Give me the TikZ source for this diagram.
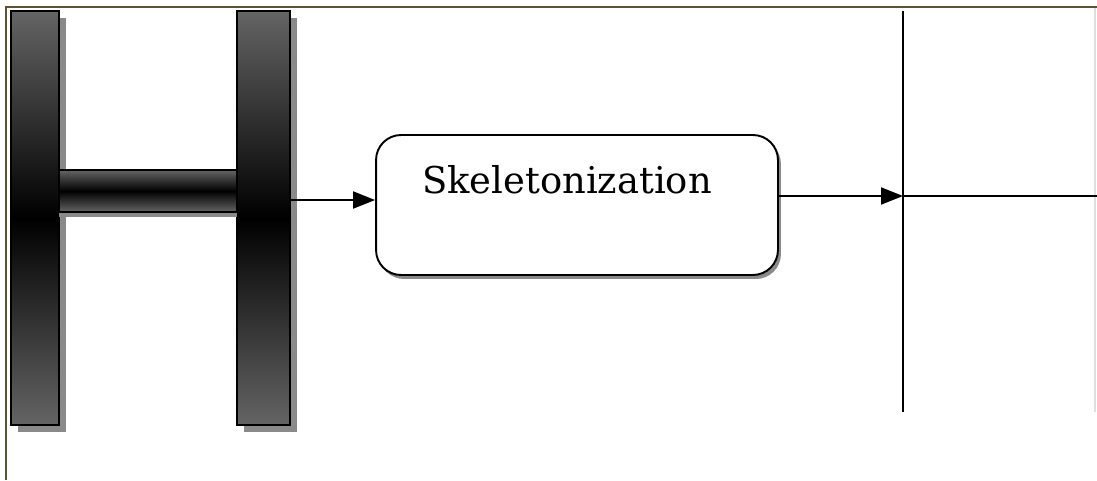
\documentclass[tikz,border=0pt]{standalone}
\usepackage{fontspec}
\setmainfont{DejaVu Serif}
\usetikzlibrary{positioning, arrows.meta, shadows}
\definecolor{framecol}{HTML}{5A5434}
\definecolor{bargray}{HTML}{646464}
\definecolor{shadowgray}{HTML}{8A8A8A}
\tikzset{
  hbar/.style={draw=black, line width=1.1pt, inner sep=0pt,
    top color=bargray, bottom color=bargray, middle color=black},
  hshadow/.style={drop shadow={shadow xshift=0.14cm, shadow yshift=-0.14cm,
    fill=shadowgray, opacity=1}},
  procbox/.style={draw=black, line width=1.1pt, fill=white, rounded corners=0.5cm,
    minimum width=8.04cm, inner sep=0pt, text height=1.16cm, text depth=1.64cm,
    font=\fontsize{21}{25}\selectfont,
    drop shadow={shadow xshift=0.06cm, shadow yshift=-0.08cm, fill=shadowgray, opacity=1}},
  flow/.style={-{Triangle[length=0.44cm,width=0.34cm]}, line width=1.1pt}
}
\begin{document}
\begin{tikzpicture}[x=0.02cm,y=-0.02cm]
  \useasboundingbox (0,0) rectangle (1097,480);
  % frame of the figure
  \draw[framecol, line width=1.4pt] (6,480) -- (6,7) -- (1097,7);
  \draw[gray!25, line width=0.6pt] (1095,8) -- (1095,412);
  % input letter H
  \node[hbar, hshadow, minimum width=0.96cm, minimum height=8.28cm] (lbar) at (35,218) {};
  \node[hbar, hshadow, minimum width=1.06cm, minimum height=8.28cm] (rbar) at (263.5,218) {};
  \node[hbar, minimum width=3.56cm, minimum height=0.84cm,
        drop shadow={shadow xshift=0cm, shadow yshift=-0.1cm, fill=shadowgray, opacity=1}]
        (cbar) at (148,191) {};
  \coordinate (hout) at (290,200);
  % processing step
  \node[procbox] (skel) at (577,205) {Skeletonization\kern0.4cm};
  % resulting skeleton
  \coordinate (vtop) at (903,11);
  \coordinate (vbot) at (903,412);
  \coordinate (cross) at (903,196);
  \coordinate (hend) at (1097,196);
  \draw[line width=1.1pt] (vtop) -- (vbot);
  \draw[line width=1.1pt] (cross) -- (hend);
  % arrows
  \draw[flow] (hout) -- (skel.west |- hout);
  \draw[flow] (skel.east |- cross) -- (cross);
\end{tikzpicture}
\end{document}
